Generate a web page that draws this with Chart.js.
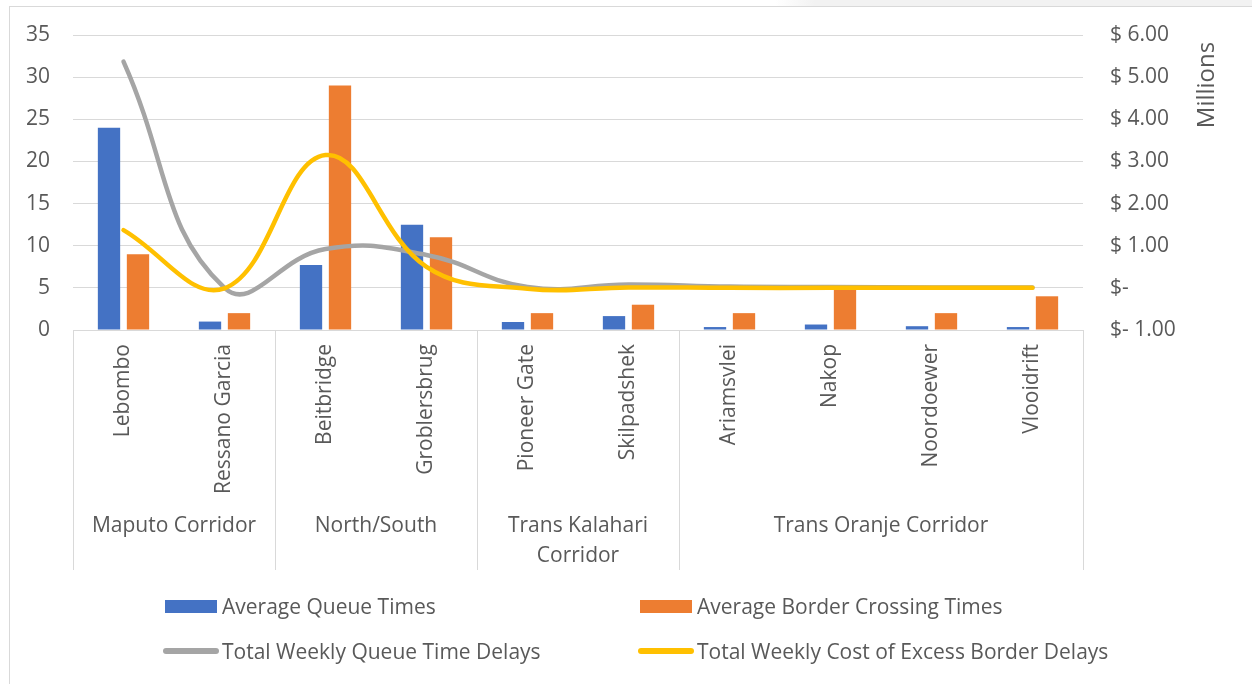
<!DOCTYPE html>
<html>
<head>
<meta charset="utf-8">
<script src="https://cdn.jsdelivr.net/npm/chart.js@4.4.1/dist/chart.umd.min.js"></script>
<style>
  html, body { margin: 0; padding: 0; background: #fff; }
  #wrap { position: relative; width: 1252px; height: 684px; overflow: hidden; font-family: "Open Sans", sans-serif; color: #595959; }
  #tab { position: absolute; left: 775px; top: 0; width: 477px; height: 6px; background: linear-gradient(to right, #fff, #f2f2f2 40px); }
  #frame { position: absolute; left: 9px; top: 6px; width: 1300px; height: 700px; border: 1px solid #d9d9d9; box-sizing: border-box; }
  #chart { position: absolute; left: 0; top: 0; }
  #legend { position: absolute; left: 163px; top: 593px; display: grid; grid-template-columns: 475px 475px; row-gap: 19px; }
  .item { display: flex; align-items: center; height: 26px; font-size: 21px; white-space: nowrap; }
  .swatch { width: 56px; margin-right: 3px; display: flex; justify-content: center; }
  .box { width: 52px; height: 13px; }
  .stroke { width: 56px; height: 6px; border-radius: 3px; }
</style>
</head>
<body>
<div id="wrap">
  <div id="tab"></div>
  <div id="frame"></div>
  <canvas id="chart" width="1252" height="684"></canvas>
  <div id="legend"></div>
</div>
<script>
// border crossings, grouped by corridor
const crossings = ['Lebombo', 'Ressano Garcia', 'Beitbridge', 'Groblersbrug', 'Pioneer Gate',
  'Skilpadshek', 'Ariamsvlei', 'Nakop', 'Noordoewer', 'Vlooidrift'];
const corridorNames = [['Maputo Corridor'], ['North/South'], ['Trans Kalahari', 'Corridor'], ['Trans Oranje Corridor']];
const corridorSizes = [2, 2, 2, 4];

// hours (left axis)
const avgQueueTimes = [24, 1, 7.7, 12.5, 0.95, 1.65, 0.35, 0.65, 0.45, 0.35];
const avgCrossingTimes = [9, 2, 29, 11, 2, 3, 2, 5, 2, 4];

// millions of dollars (right axis)
const weeklyQueueDelays = [5.37, 0.0, 0.92, 0.78, 0.02, 0.08, 0.03, 0.02, 0.01, 0.01];
const weeklyExcessCost = [1.37, -0.01, 3.15, 0.5, -0.02, 0.01, 0, 0, 0, 0];

const leftTicks = [0, 35, 5];
const rightTicks = [-1, 6, 1];

const textColor = '#595959';
const gridColor = '#d9d9d9';
const fontFamily = '"Open Sans", sans-serif';
const fontSize = 21;

function money(v) {
  if (v === 0) return '$-';
  if (v < 0) return '$- ' + Math.abs(v).toFixed(2);
  return '$ ' + v.toFixed(2);
}

// fixed axis widths; the tick padding should not push the plot area down
function fitSide(width) {
  return scale => {
    scale.width = width;
    scale.paddingTop = 12;
    scale.paddingBottom = 12;
  };
}

// corridor group labels + divider lines under the category axis, and the "Millions" title
const corridorAxis = {
  id: 'corridorAxis',
  afterDraw(chart) {
    const { ctx, scales } = chart;
    const x = scales.x;
    const y2 = scales.y2;
    ctx.save();
    ctx.strokeStyle = gridColor;
    ctx.lineWidth = 1;
    ctx.fillStyle = textColor;
    ctx.font = fontSize + 'px ' + fontFamily;
    ctx.textAlign = 'center';
    ctx.textBaseline = 'middle';

    let start = 0;
    let left = x.left;
    const edges = [left];
    corridorSizes.forEach((n, g) => {
      const end = start + n;
      const right = end >= crossings.length
        ? x.right
        : (x.getPixelForValue(end - 1) + x.getPixelForValue(end)) / 2;
      edges.push(right);
      corridorNames[g].forEach((line, k) => {
        ctx.fillText(line, (left + right) / 2, x.top + 196 + k * 30);
      });
      left = right;
      start = end;
    });
    edges.forEach(px => {
      const p = Math.round(px) + 0.5;
      ctx.beginPath();
      ctx.moveTo(p, x.top);
      ctx.lineTo(p, x.bottom);
      ctx.stroke();
    });

    ctx.font = '24px ' + fontFamily;
    ctx.translate(y2.left + 124, chart.chartArea.top + 50);
    ctx.rotate(-Math.PI / 2);
    ctx.fillText('Millions', 0, 0);
    ctx.restore();
  }
};

const chart = new Chart(document.getElementById('chart'), {
  type: 'bar',
  data: {
    labels: crossings,
    datasets: [
      {
        label: 'Average Queue Times',
        data: avgQueueTimes,
        backgroundColor: '#4472c4',
        yAxisID: 'y',
        order: 2,
        categoryPercentage: 0.574,
        barPercentage: 0.77
      },
      {
        label: 'Average Border Crossing Times',
        data: avgCrossingTimes,
        backgroundColor: '#ed7d31',
        yAxisID: 'y',
        order: 2,
        categoryPercentage: 0.574,
        barPercentage: 0.77
      },
      {
        type: 'line',
        label: 'Total Weekly Queue Time Delays',
        data: weeklyQueueDelays,
        borderColor: '#a5a5a5',
        backgroundColor: '#a5a5a5',
        borderWidth: 4.5,
        borderCapStyle: 'round',
        tension: 0.45,
        pointRadius: 0,
        yAxisID: 'y2',
        order: 1
      },
      {
        type: 'line',
        label: 'Total Weekly Cost of Excess Border Delays',
        data: weeklyExcessCost,
        borderColor: '#ffc000',
        backgroundColor: '#ffc000',
        borderWidth: 4.5,
        borderCapStyle: 'round',
        tension: 0.4,
        pointRadius: 0,
        yAxisID: 'y2',
        order: 0
      }
    ]
  },
  options: {
    responsive: false,
    devicePixelRatio: 1,
    animation: false,
    layout: { padding: { top: 35, bottom: 114, left: 0, right: 0 } },
    plugins: {
      legend: { display: false },
      tooltip: { enabled: false }
    },
    scales: {
      x: {
        grid: { display: false, drawTicks: false },
        border: { display: false },
        ticks: {
          autoSkip: false,
          minRotation: 90,
          maxRotation: 90,
          padding: 14,
          color: textColor,
          font: { family: fontFamily, size: fontSize }
        },
        afterFit(scale) { scale.height = 240; }
      },
      y: {
        position: 'left',
        min: leftTicks[0],
        max: leftTicks[1],
        grid: { color: gridColor, lineWidth: 1, drawTicks: false },
        border: { display: false },
        ticks: {
          stepSize: leftTicks[2],
          padding: 23,
          color: textColor,
          font: { family: fontFamily, size: fontSize }
        },
        afterFit: fitSide(73)
      },
      y2: {
        position: 'right',
        min: rightTicks[0],
        max: rightTicks[1],
        grid: { display: false, drawTicks: false },
        border: { display: false },
        ticks: {
          stepSize: rightTicks[2],
          padding: 27,
          color: textColor,
          font: { family: fontFamily, size: fontSize },
          callback: v => money(v)
        },
        afterFit: fitSide(169)
      }
    }
  },
  plugins: [corridorAxis]
});

// two-column legend built from the datasets
const legendEl = document.getElementById('legend');
chart.data.datasets.forEach(ds => {
  const item = document.createElement('div');
  item.className = 'item';
  const sw = document.createElement('span');
  sw.className = 'swatch';
  const mark = document.createElement('span');
  mark.className = ds.type === 'line' ? 'stroke' : 'box';
  mark.style.background = ds.type === 'line' ? ds.borderColor : ds.backgroundColor;
  sw.appendChild(mark);
  const text = document.createElement('span');
  text.textContent = ds.label;
  item.appendChild(sw);
  item.appendChild(text);
  legendEl.appendChild(item);
});
</script>
</body>
</html>
